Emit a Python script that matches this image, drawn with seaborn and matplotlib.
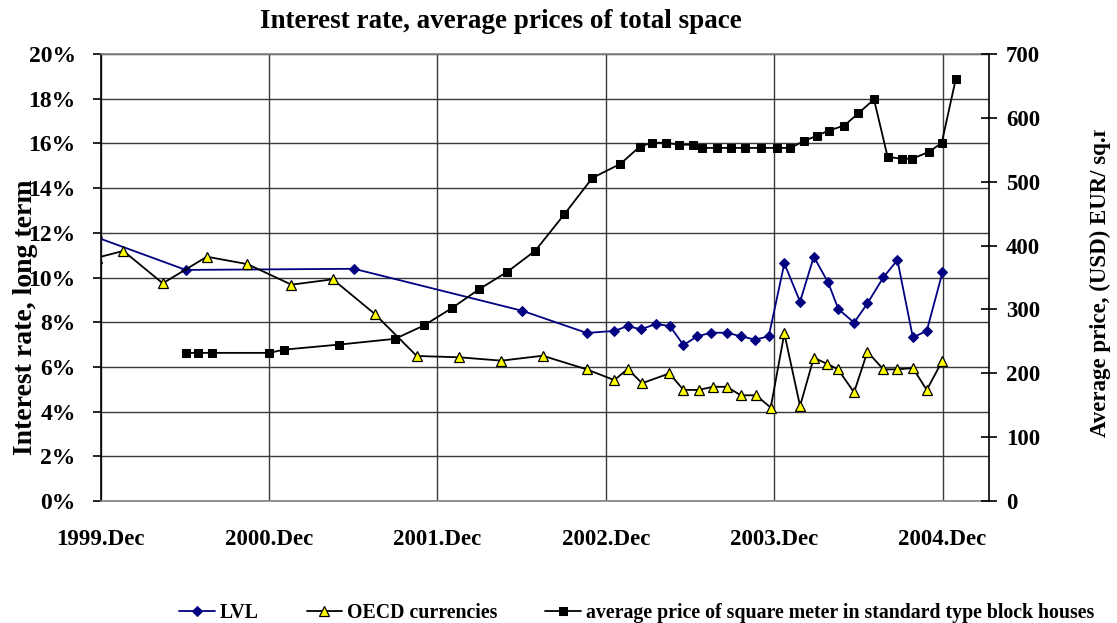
import matplotlib
matplotlib.use("Agg")
import matplotlib.pyplot as plt
import seaborn as sns
from matplotlib.ticker import FuncFormatter, MultipleLocator
from matplotlib.transforms import Bbox, TransformedBbox

# Months counted from December 1999
lvl_month = [-0.3, 6.06, 18.05, 30.05, 34.64, 36.6, 37.56, 38.49, 39.56, 40.56,
             41.53, 42.52, 43.52, 44.62, 45.62, 46.64, 47.61, 48.72, 49.84, 50.82,
             51.84, 52.57, 53.69, 54.64, 55.78, 56.78, 57.88, 58.87, 59.99]
lvl_rate = [11.8, 10.34, 10.39, 8.51, 7.52, 7.61, 7.83, 7.68, 7.92, 7.83,
            6.98, 7.37, 7.53, 7.53, 7.37, 7.22, 7.37, 10.63, 8.92, 10.93,
            9.78, 8.59, 7.98, 8.84, 10.01, 10.78, 7.32, 7.61, 10.23]

oecd_month = [-0.3, 1.61, 4.42, 7.56, 10.45, 13.59, 16.54, 19.53, 22.52, 25.56,
              28.55, 31.5, 34.64, 36.6, 37.56, 38.58, 40.53, 41.53, 42.62, 43.62,
              44.62, 45.62, 46.71, 47.75, 48.72, 49.84, 50.82, 51.79, 52.55, 53.69,
              54.64, 55.78, 56.78, 57.88, 58.87, 59.99]
oecd_rate = [10.88, 11.19, 9.74, 10.93, 10.60, 9.68, 9.92, 8.37, 6.49, 6.43,
             6.28, 6.50, 5.89, 5.41, 5.91, 5.27, 5.71, 4.97, 4.97, 5.11,
             5.11, 4.73, 4.73, 4.18, 7.50, 4.25, 6.41, 6.13, 5.89, 4.86,
             6.68, 5.89, 5.89, 5.95, 4.97, 6.28]

price_month = [6.06, 6.96, 7.95, 12.02, 13.04, 17.0, 20.98, 23.04, 25.02, 26.99,
               28.98, 30.97, 33.04, 35.04, 37.04, 38.42, 39.27, 40.27, 41.24, 42.24,
               42.86, 43.95, 44.95, 45.95, 47.06, 48.18, 49.15, 50.15, 51.03, 51.88,
               52.99, 53.99, 55.11, 56.08, 57.08, 57.84, 59.05, 59.94, 60.94]
price_eur = [232, 232, 232, 232, 237, 245, 254, 275, 302, 332,
             359, 392, 449, 506, 528, 555, 561, 561, 558, 558,
             553, 553, 553, 553, 553, 553, 553, 564, 572, 580,
             588, 607, 629, 539, 536, 536, 547, 561, 661]

year_ticks = [0, 12, 24, 36, 48, 60]
year_labels = ["1999.Dec", "2000.Dec", "2001.Dec", "2002.Dec", "2003.Dec", "2004.Dec"]

series_names = ["LVL", "OECD currencies",
                "average price of square meter in standard type block houses"]

sns.set_style("white")
plt.rcParams["font.family"] = ["Liberation Serif", "DejaVu Serif"]
plt.rcParams["font.weight"] = "bold"
for key in ["text.color", "axes.labelcolor", "xtick.color", "ytick.color"]:
    plt.rcParams[key] = "black"

fig = plt.figure(figsize=(11.17, 6.23), dpi=100)
ax = fig.add_axes([0.0902, 0.1958, 0.7955, 0.7175])
ax2 = ax.twinx()

grid_col = "#3a3a3a"

sns.lineplot(x=lvl_month, y=lvl_rate, ax=ax, color="#000080", linewidth=1.3,
             marker="D", markersize=5.5, markeredgecolor="#000080",
             markerfacecolor="#000080", legend=False)
sns.lineplot(x=oecd_month, y=oecd_rate, ax=ax, color="black", linewidth=1.3,
             marker="^", markersize=6.5, markeredgecolor="black",
             markeredgewidth=0.9, markerfacecolor="#FFFF00", legend=False)
sns.lineplot(x=price_month, y=price_eur, ax=ax2, color="black", linewidth=1.3,
             marker="s", markersize=5.5, markeredgecolor="black",
             markerfacecolor="black", legend=False)

ax.set_xlim(0, 63.33)
ax.set_ylim(0, 20)
ax2.set_ylim(0, 700)

ax.set_xticks(year_ticks)
ax.set_xticklabels(year_labels)
ax.yaxis.set_major_locator(MultipleLocator(2))
ax.yaxis.set_major_formatter(FuncFormatter(lambda v, p: f"{v:.0f}%"))
ax2.yaxis.set_major_locator(MultipleLocator(100))

ax.grid(True, color=grid_col, linewidth=1.0)
ax.set_axisbelow(True)
ax2.grid(False)

for sp in ["top", "bottom"]:
    ax.spines[sp].set_color("#808080")
    ax2.spines[sp].set_visible(False)
ax.spines["left"].set_color("black")
ax.spines["right"].set_visible(False)
ax2.spines["left"].set_visible(False)
ax2.spines["right"].set_color("black")
for sp in ax.spines.values():
    sp.set_linewidth(1.2)
ax2.spines["right"].set_linewidth(1.2)

ax.tick_params(axis="y", direction="out", length=6, width=1.2, color="black",
               labelsize=17, pad=12, left=True, labelcolor="black")
ax.tick_params(axis="x", length=0, labelsize=16.5, pad=20, labelcolor="black")
ax2.tick_params(axis="y", direction="inout", length=12, width=1.2, color="black",
                labelsize=16.5, pad=6, right=True, labelcolor="black")
for lab in ax.get_xticklabels() + ax.get_yticklabels() + ax2.get_yticklabels():
    lab.set_fontweight("bold")
ax.set_xlabel("")
ax.set_ylabel("")
ax2.set_ylabel("")

fig.text(0.4485, 0.966, "Interest rate, average prices of total space",
         ha="center", va="center", fontsize=19.5, fontweight="bold")
fig.text(0.0225, 1 - 317 / 623, "Interest rate, long term", rotation=90,
         ha="center", va="center", fontsize=20, fontweight="bold")
rlab = fig.text(0.9855, 1 - 437 / 623, "Average price, (USD) EUR/ sq.m",
                rotation=90, ha="center", va="bottom", fontsize=16.5,
                fontweight="bold")
rlab.set_clip_box(TransformedBbox(Bbox([[0, 0], [1, 1 - 130 / 623]]),
                                  fig.transFigure))
rlab.set_clip_on(True)

handles = [ax.lines[0], ax.lines[1], ax2.lines[0]]
fig.legend(handles, series_names, loc="center", bbox_to_anchor=(0.57, 0.016),
           ncol=3, frameon=False, handlelength=1.8,
           handletextpad=0.25, columnspacing=2.4, borderpad=0.0,
           prop={"weight": "bold", "size": 14.3})

fig.savefig("out.png", dpi=100)
